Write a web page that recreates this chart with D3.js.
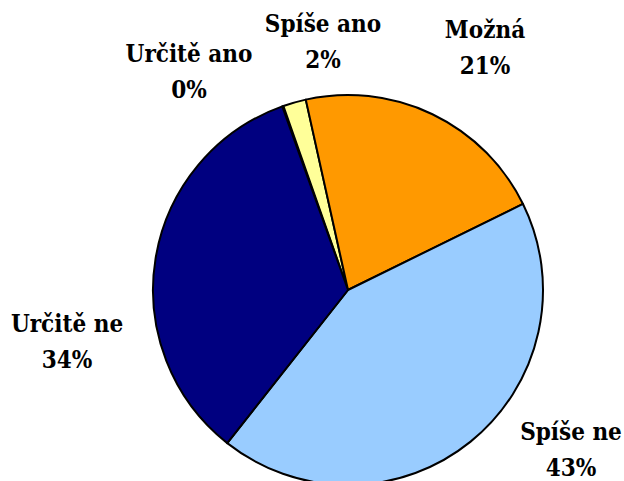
<!DOCTYPE html>
<html>
<head>
<meta charset="utf-8">
<script src="https://cdn.jsdelivr.net/npm/d3@7"></script>
<style>
  body { margin: 0; background: #fff; }
</style>
</head>
<body>
<svg id="chart" width="624" height="481"></svg>
<script>
// data
var categories = ['Určitě ano', 'Spíše ano', 'Možná', 'Spíše ne', 'Určitě ne'];
var values = [0.1, 1.9, 21.2, 42.9, 33.9];
var percentLabels = ['0%', '2%', '21%', '43%', '34%'];
var colors = ['#FFFFFF', '#FFFF99', '#FF9900', '#99CCFF', '#000080'];

// label positions (first line baseline), layout only
var labelAt = [[189, 62], [323, 32], [485, 38], [571, 440], [67, 332]];

var svg = d3.select('#chart');
var cx = 348, cy = 290, r = 195;

var pie = d3.pie()
    .value(function (d) { return d; })
    .sort(null)
    .startAngle(-19.7 * Math.PI / 180)
    .endAngle((360 - 19.7) * Math.PI / 180);

var arc = d3.arc().innerRadius(0).outerRadius(r);

var g = svg.append('g').attr('transform', 'translate(' + cx + ',' + cy + ')');

g.selectAll('path')
    .data(pie(values))
    .enter().append('path')
    .attr('d', arc)
    .attr('fill', function (d, i) { return colors[i]; })
    .attr('stroke', '#000')
    .attr('stroke-width', 2)
    .attr('stroke-linejoin', 'round');

// labels
categories.forEach(function (name, i) {
    var t = svg.append('text')
        .attr('text-anchor', 'middle')
        .attr('font-family', "'DejaVu Serif Condensed', 'DejaVu Serif', serif")
        .attr('font-stretch', 'condensed')
        .attr('font-weight', 'bold')
        .attr('font-size', 24)
        .attr('x', labelAt[i][0])
        .attr('y', labelAt[i][1]);
    t.append('tspan').attr('x', labelAt[i][0]).text(name);
    t.append('tspan').attr('x', labelAt[i][0]).attr('dy', 36).text(percentLabels[i]);
});
</script>
</body>
</html>
